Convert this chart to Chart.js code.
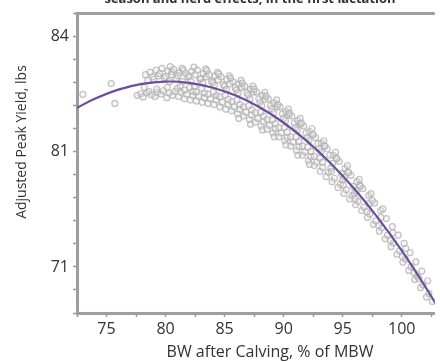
<!DOCTYPE html>
<html><head><meta charset="utf-8">
<script src="https://cdn.jsdelivr.net/npm/chart.js@4"></script>
<style>html,body{margin:0;padding:0;background:#fff}#wrap{width:440px;height:362px;position:relative}</style>
</head><body><div id="wrap"><canvas id="c"></canvas></div>
<script>
const titleText = "season and herd effects, in the first lactation";
const xAxisTitle = "BW after Calving, % of MBW";
const yAxisTitle = "Adjusted Peak Yield, lbs";
const xTickValues = [75, 80, 85, 90, 95, 100];
const xTickLabels = ["75", "80", "85", "90", "95", "100"];
const yTickValues = [0, 5, 10];
const yTickLabels = ["71", "81", "84"];

// fitted curve (x: % of MBW, y: position on the yield axis)
const fitX = [72.5, 74, 76, 78, 80, 82, 84, 86, 88, 90, 92, 94, 96, 98, 100, 102, 103];
const fitY = [6.91, 7.30, 7.70, 7.95, 8.05, 7.99, 7.78, 7.43, 6.92, 6.26, 5.45, 4.49, 3.38, 2.12, 0.71, -0.86, -1.70];

// observed cows
const obsPoints = [
[73.0,7.49],[75.4,7.96],[75.7,7.10],
[77.6,7.45],[77.9,7.52],
[78.1,7.38],[78.4,7.55],[78.3,8.35],[78.2,7.80],[78.5,8.10],
[78.6,7.62],[78.8,7.48],[78.7,8.45],[78.9,8.25],
[79.1,7.40],[79.3,7.58],[79.2,8.55],[79.4,8.30],[79.0,8.15],[79.25,7.72],
[79.6,7.50],[79.8,7.65],[79.7,8.62],[79.5,8.40],[79.9,8.20],
[80.1,7.35],[80.3,7.55],[80.2,8.50],[80.4,8.70],[80.0,8.28],[80.15,7.80],[80.35,8.05],[80.55,8.48],
[80.6,7.45],[80.8,7.62],[80.7,8.58],[80.5,8.35],[80.9,8.18],
[81.1,7.40],[81.3,7.58],[81.2,8.45],[81.4,8.62],[81.0,7.75],[81.05,8.30],[81.25,7.85],[81.45,8.05],
[81.6,7.30],[81.8,7.50],[81.7,8.40],[81.5,8.55],[81.9,8.25],[81.6,7.68],
[82.1,7.25],[82.3,7.45],[82.2,8.48],[82.4,8.68],[82.0,8.30],[82.3,7.62],[82.05,7.80],[82.15,8.05],[82.45,7.85],
[82.6,7.20],[82.8,7.42],[82.7,8.55],[82.5,8.35],[82.9,8.15],[82.6,7.60],
[83.1,7.15],[83.3,7.35],[83.2,8.40],[83.4,8.60],[83.0,8.18],[83.3,7.55],[83.05,7.75],[83.15,8.00],[83.45,8.25],
[83.6,7.10],[83.8,7.30],[83.7,8.35],[83.5,8.52],[83.9,8.05],[83.6,7.50],
[84.1,7.05],[84.3,7.25],[84.2,8.30],[84.4,8.45],[84.0,8.00],[84.3,7.45],[84.05,7.60],[84.15,7.90],[84.45,8.12],
[84.6,6.95],[84.8,7.15],[84.7,8.25],[84.5,8.38],[84.9,7.92],[84.6,7.38],
[85.1,6.85],[85.3,7.05],[85.2,8.15],[85.4,8.30],[85.0,7.85],[85.3,7.28],[85.05,7.45],[85.15,7.70],[85.45,7.95],
[85.6,6.78],[85.8,6.95],[85.7,8.05],[85.5,8.20],[85.9,7.78],[85.6,7.18],
[86.1,6.65],[86.3,6.85],[86.2,7.95],[86.4,8.10],[86.0,7.68],[86.3,7.05],[86.05,7.25],[86.15,7.55],[86.45,7.80],[86.2,6.45],
[86.6,6.55],[86.8,6.72],[86.7,7.85],[86.5,7.98],[86.9,7.55],[86.6,6.95],
[87.1,6.40],[87.3,6.60],[87.2,7.72],[87.4,7.85],[87.0,7.45],[87.3,6.82],[87.05,7.00],[87.15,7.30],[87.45,7.60],[87.2,6.20],
[87.6,6.28],[87.8,6.45],[87.7,7.60],[87.5,7.72],[87.9,7.30],[87.6,6.70],
[88.1,6.12],[88.3,6.30],[88.2,7.45],[88.4,7.58],[88.0,7.15],[88.3,6.55],[88.05,6.72],[88.15,7.00],[88.45,7.28],[88.2,5.95],
[88.6,5.98],[88.8,6.15],[88.7,7.30],[88.5,7.42],[88.9,7.00],[88.6,6.40],
[89.1,5.82],[89.3,6.00],[89.2,7.12],[89.4,7.25],[89.0,6.85],[89.3,6.22],[89.05,6.40],[89.15,6.70],[89.45,6.95],[89.2,5.65],
[89.6,5.65],[89.8,5.82],[89.7,6.95],[89.5,7.05],[89.9,6.65],[89.6,6.05],
[90.1,5.48],[90.3,5.62],[90.2,6.75],[90.4,6.85],[90.0,6.45],[90.3,5.85],[90.05,6.05],[90.15,6.35],[90.45,6.60],[90.2,5.30],
[90.6,5.25],[90.8,5.42],[90.7,6.55],[90.5,6.68],[90.9,6.25],[90.6,5.65],
[91.1,5.05],[91.3,5.22],[91.2,6.35],[91.4,6.45],[91.0,6.05],[91.3,5.45],[91.05,5.65],[91.15,5.95],[91.45,6.20],[91.2,4.85],
[91.6,4.85],[91.8,5.00],[91.7,6.12],[91.5,6.25],[91.9,5.82],[91.6,5.25],
[92.1,4.62],[92.3,4.78],[92.2,5.88],[92.4,6.00],[92.0,5.62],[92.3,5.02],[92.05,5.20],[92.15,5.50],[92.45,5.75],[92.2,4.45],
[92.6,4.40],[92.8,4.55],[92.7,5.62],[92.5,5.75],[92.9,5.35],[92.6,4.80],
[93.1,4.15],[93.3,4.32],[93.2,5.38],[93.4,5.48],[93.0,5.12],[93.3,4.55],[93.05,4.72],[93.15,5.00],[93.45,5.25],
[93.6,3.92],[93.8,4.10],[93.7,5.12],[93.5,5.25],[93.9,4.85],
[94.1,3.70],[94.3,3.85],[94.2,4.85],[94.4,4.98],[94.0,4.30],[94.05,4.15],[94.15,4.50],[94.45,4.72],
[94.6,3.45],[94.8,3.60],[94.7,4.58],[94.5,4.70],[94.9,4.05],
[95.1,3.20],[95.3,3.35],[95.2,4.28],[95.4,4.40],[95.0,3.78],[95.05,3.55],[95.15,3.90],[95.45,4.12],
[95.6,2.95],[95.8,3.10],[95.7,3.98],[95.5,4.10],[95.9,3.50],
[96.1,2.70],[96.3,2.85],[96.2,3.70],[96.4,3.80],[96.0,3.20],[96.05,2.95],[96.15,3.30],[96.45,3.55],
[96.6,2.45],[96.8,2.60],[96.7,3.40],[96.5,3.50],
[97.1,2.15],[97.3,2.30],[97.2,3.10],[97.4,3.18],[97.05,2.40],[97.25,2.75],
[97.6,1.85],[97.8,2.00],[97.7,2.78],[97.5,2.88],
[98.1,1.55],[98.3,1.70],[98.2,2.45],[98.4,2.52],[98.05,1.80],[98.25,2.15],
[98.6,1.22],[98.8,1.38],[98.7,2.10],
[99.1,0.88],[99.3,1.05],[99.2,1.75],[99.05,1.15],[99.25,1.48],
[99.6,0.55],[99.8,0.70],[99.7,1.38],
[100.1,0.20],[100.3,0.35],[100.2,1.02],[100.05,0.45],[100.35,0.80],
[100.6,-0.15],[100.8,0.00],[100.7,0.62],
[101.1,-0.55],[101.3,-0.40],[101.2,0.22],[101.05,-0.25],[101.45,-0.50],
[101.6,-0.90],[101.8,-0.78],[101.7,-0.18],
[102.1,-1.30],[102.3,-1.15],[102.2,-0.60],
[102.6,-1.50]
];

const FONT = "'Open Sans', 'DejaVu Sans', sans-serif";
const TEXT = '#333333';
const FRAME = '#a19d9d';

const textPlugin = {
  id: 'texts',
  afterDraw(chart) {
    const ctx = chart.ctx, a = chart.chartArea;
    ctx.save();
    ctx.strokeStyle = FRAME; ctx.lineWidth = 3;
    ctx.beginPath(); ctx.moveTo(a.left - 1.5, a.top); ctx.lineTo(a.right, a.top); ctx.stroke();
    ctx.fillStyle = TEXT;
    ctx.font = "bold 13px " + FONT;
    ctx.textAlign = 'center'; ctx.textBaseline = 'alphabetic';
    ctx.fillText(titleText, 250, 3);
    ctx.font = "16px " + FONT;
    ctx.textBaseline = 'middle';
    ctx.fillText(xAxisTitle, 270, 352);
    ctx.font = "14px " + FONT;
    ctx.translate(22, 142); ctx.rotate(-Math.PI / 2);
    ctx.fillText(yAxisTitle, 0, 0);
    ctx.restore();
  }
};

new Chart(document.getElementById('c'), {
  type: 'scatter',
  data: {
    datasets: [
      {
        label: 'Fit', type: 'scatter', showLine: true,
        data: fitX.map((x, i) => ({x, y: fitY[i]})),
        borderColor: '#6e4d9f', borderWidth: 2.2, pointRadius: 0, tension: 0.4,
        order: 0
      },
      {
        label: 'Cows',
        data: obsPoints.map(p => ({x: p[0], y: p[1]})),
        pointRadius: 3, pointBorderWidth: 1.2,
        borderColor: 'rgba(175,175,175,0.75)', backgroundColor: 'rgba(225,225,225,0.3)',
        order: 1
      }
    ]
  },
  options: {
    responsive: true, maintainAspectRatio: false, animation: false,
    layout: { padding: { top: 11, right: 0, left: 0, bottom: 0 } },
    plugins: { legend: { display: false }, tooltip: { enabled: false }, title: { display: false } },
    scales: {
      x: {
        type: 'linear', min: 72.5, max: 102.8,
        afterFit(s) { s.height = 49; },
        afterBuildTicks(s) {
          const t = [];
          for (let v = 72.5; v <= 102.8; v += 2.5) t.push({value: v});
          s.ticks = t;
        },
        ticks: {
          autoSkip: false, maxRotation: 0, color: TEXT, padding: 3,
          font: { family: FONT, size: 16 },
          callback(v) { const i = xTickValues.indexOf(v); return i >= 0 ? xTickLabels[i] : ''; }
        },
        grid: { drawOnChartArea: false, drawTicks: true, tickLength: 4, tickColor: '#999', tickWidth: 1.5 },
        border: { display: true, color: FRAME, width: 3 }
      },
      y: {
        type: 'linear', min: -2, max: 11,
        afterFit(s) { s.width = 77; },
        ticks: {
          stepSize: 1, autoSkip: false, color: TEXT, padding: 4,
          font: { family: FONT, size: 16 },
          callback(v) { const i = yTickValues.indexOf(v); return i >= 0 ? yTickLabels[i] : ''; }
        },
        grid: { drawOnChartArea: false, drawTicks: true, tickLength: 4, tickColor: '#999', tickWidth: 1.5 },
        border: { display: true, color: FRAME, width: 3 }
      }
    }
  },
  plugins: [textPlugin]
});
</script>
</body></html>
